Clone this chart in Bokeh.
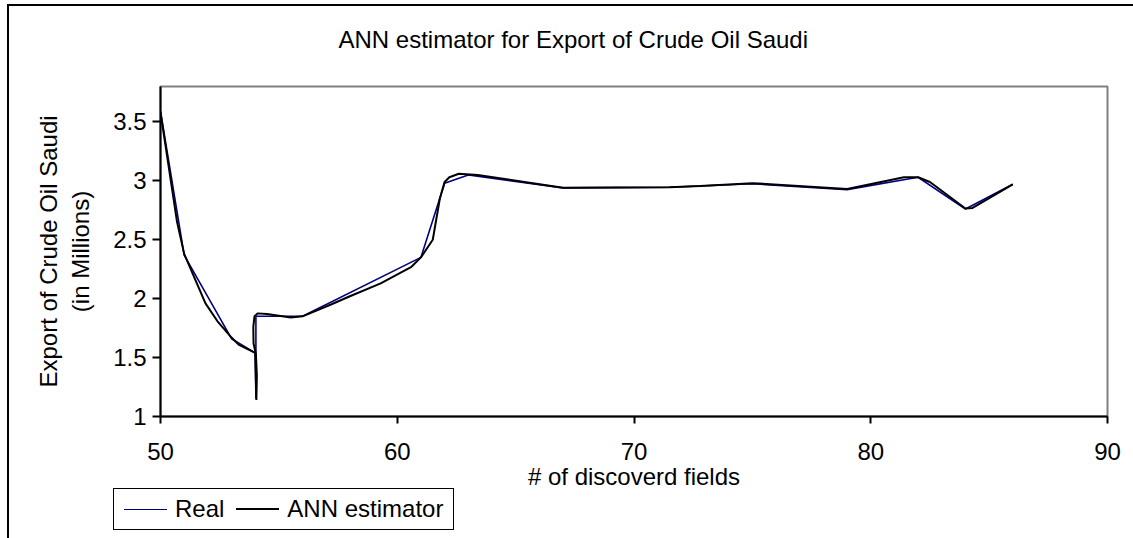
from bokeh.plotting import figure
from bokeh.layouts import column
from bokeh.models import Range1d, FixedTicker, Div, Title
from bokeh.embed import file_html
from bokeh.resources import INLINE

# ---- data ----
real_x = [50, 51, 53, 54, 54.03, 54.03, 56, 61, 62, 63, 67, 71.5, 75, 79, 82, 84, 86]
real_y = [3.59, 2.37, 1.66, 1.54, 1.15, 1.85, 1.85, 2.35, 2.98, 3.05, 2.94, 2.945, 2.975, 2.925, 3.03, 2.76, 2.97]

ann_x = [50, 50.7, 51, 51.9, 52.4, 53, 53.3, 53.7, 54, 54.05, 54.07, 54.03, 53.93, 53.92,
         53.97, 54.1, 54.5, 55.5, 56, 57.2, 58, 59.3, 60.6, 61, 61.5, 61.8, 62.0, 62.2,
         62.6, 63.4, 67, 71.5, 72.8, 75, 79, 81.4, 82, 82.5, 84, 84.3, 86]
ann_y = [3.58, 2.65, 2.38, 1.96, 1.81, 1.67, 1.61, 1.57, 1.54, 1.14, 1.35, 1.53, 1.62, 1.76,
         1.85, 1.875, 1.87, 1.84, 1.85, 1.95, 2.02, 2.13, 2.27, 2.35, 2.5, 2.85, 2.99, 3.03,
         3.06, 3.05, 2.94, 2.945, 2.955, 2.98, 2.93, 3.03, 3.03, 2.99, 2.765, 2.77, 2.97]

x_ticks = [50, 60, 70, 80, 90]
y_ticks = [1, 1.5, 2, 2.5, 3, 3.5]

title_text = "ANN estimator for Export of Crude Oil Saudi"
x_label = "# of discoverd fields"
y_label = "Export of Crude Oil Saudi\n(in Millions)"
series_names = ["Real", "ANN estimator"]
series_colors = ["#000080", "#000000"]
series_widths = [1.6, 2]

FONT = "Liberation Sans"
FS = "24px"
CSS_FONT = "font-family:'Liberation Sans',Arial,sans-serif;font-size:24px;color:#000;"

p = figure(width=1122, height=486, output_backend="svg", toolbar_location=None,
           x_range=Range1d(50, 90), y_range=Range1d(1, 3.8),
           min_border_left=151, min_border_right=24, min_border_top=80, min_border_bottom=74)

# spacer between frame and title (keeps the title higher up)
p.add_layout(Title(text=" ", text_font_size="1px", standoff=26), "above")

p.title.text = title_text
p.title.align = "left"
p.title.offset = 178
p.title.text_font = FONT
p.title.text_font_size = FS
p.title.text_font_style = "normal"
p.title.text_color = "#000000"
p.title.standoff = 10

p.xgrid.visible = False
p.ygrid.visible = False
p.outline_line_color = "#808080"
p.outline_line_width = 2

for ax in (p.xaxis[0], p.yaxis[0]):
    ax.axis_line_color = "#000000"
    ax.axis_line_width = 2
    ax.major_tick_line_color = "#000000"
    ax.major_tick_line_width = 2
    ax.major_tick_in = 0
    ax.minor_tick_line_color = None
    ax.major_label_text_font = FONT
    ax.major_label_text_font_size = FS
    ax.major_label_text_color = "#000000"
    ax.axis_label_text_font = FONT
    ax.axis_label_text_font_size = FS
    ax.axis_label_text_font_style = "normal"
    ax.axis_label_text_color = "#000000"

p.xaxis.ticker = FixedTicker(ticks=x_ticks)
p.yaxis.ticker = FixedTicker(ticks=y_ticks)
p.xaxis.major_tick_out = 7
p.yaxis.major_tick_out = 8
p.xaxis.major_label_standoff = 19
p.yaxis.major_label_standoff = 6
p.xaxis.axis_label = x_label
p.yaxis.axis_label = y_label
p.xaxis.axis_label_standoff = 0
p.yaxis.axis_label_standoff = 16

p.line(real_x, real_y, line_color=series_colors[0], line_width=series_widths[0])
p.line(ann_x, ann_y, line_color=series_colors[1], line_width=series_widths[1])

# ---- legend box underneath the chart ----
items_html = ""
for i, (name, color, w) in enumerate(zip(series_names, series_colors, series_widths)):
    gap = 12 if i < len(series_names) - 1 else 0
    items_html += (
        f'<span style="display:inline-block;width:43px;height:0;border-top:{w}px solid {color};'
        f'margin-right:8px"></span>'
        f'<span style="margin-right:{gap}px">{name}</span>'
    )
legend_html = (
    '<div style="position:relative;top:-5px;display:flex;align-items:center;width:fit-content;'
    f'margin:-4px 0 0 99px;border:1.5px solid #000;padding:7px 10px;{CSS_FONT}line-height:26px;'
    f'white-space:nowrap;background:#fff">{items_html}</div>'
)
legend_div = Div(text=legend_html, width=1122, height=44)

layout = column(p, legend_div, spacing=0)
layout.styles = {"margin-left": "7px", "margin-top": "4px",
                 "border-top": "2px solid #000000", "border-left": "2px solid #000000"}

open("out.html", "w").write(file_html(layout, INLINE))
